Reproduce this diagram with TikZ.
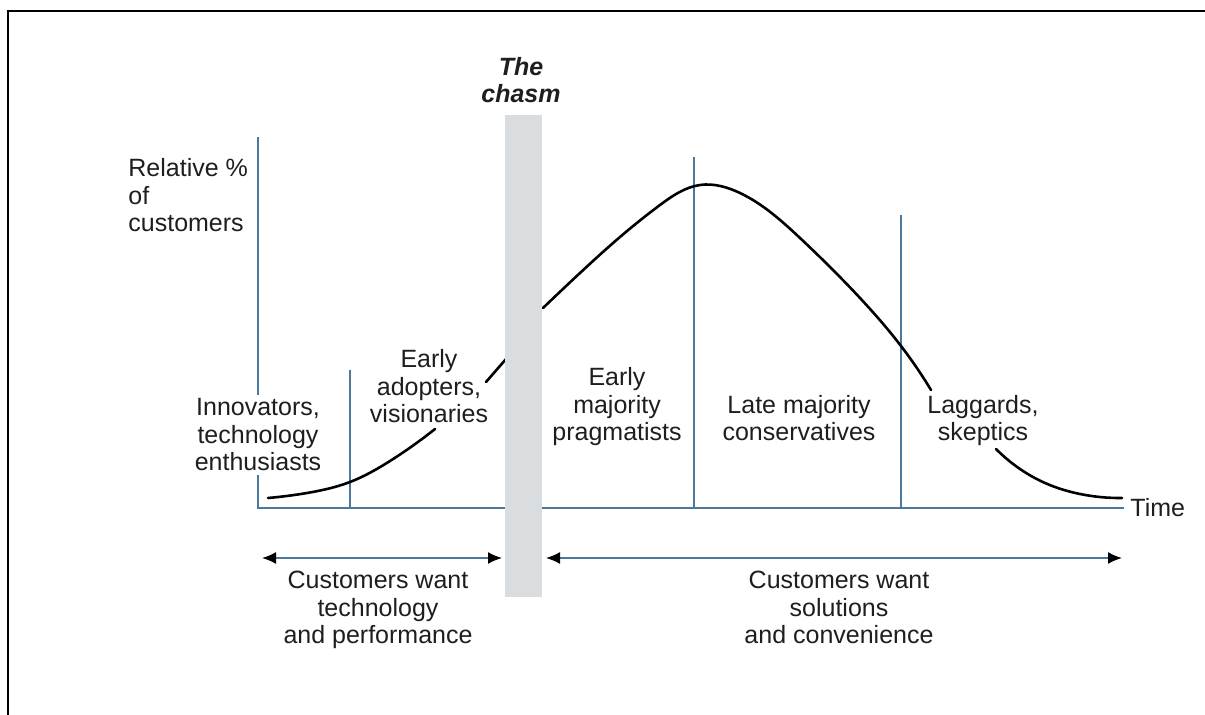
\documentclass[tikz,border=0pt]{standalone}
\usepackage{fontspec}
\setmainfont{Liberation Sans}
\usetikzlibrary{arrows.meta,hobby}
\definecolor{axisblue}{RGB}{75,120,155}
\definecolor{chasmgray}{RGB}{218,221,224}
\definecolor{ink}{RGB}{30,30,30}
\begin{document}
\begin{tikzpicture}[x=0.5pt,y=-0.5pt,
  lbl/.style={font=\fontsize{12.5}{13.75}\selectfont, text=ink, align=center, inner sep=0pt, anchor=base},
  axisline/.style={draw=axisblue, line width=0.8pt},
  curveline/.style={draw=black, line width=1.3pt, line cap=round, use Hobby shortcut},
  span/.style={axisline, {Latex[length=7pt,width=6pt,color=black]}-{Latex[length=7pt,width=6pt,color=black]}}
]
\useasboundingbox (0,0) rectangle (1205,715);
% frame
\draw[line width=1pt] (1205,11) -- (8,11) -- (8,715);
% axes
\coordinate (ytop) at (258,137);
\coordinate (origin) at (258,508);
\coordinate (xend) at (1124,508);
\draw[axisline] (ytop) -- (origin) -- (xend);
% dividers
\coordinate (d1t) at (350,370); \coordinate (d1b) at (350,508);
\coordinate (d2t) at (694,157); \coordinate (d2b) at (694,508);
\coordinate (d3t) at (901,215); \coordinate (d3b) at (901,508);
\draw[axisline] (d1t) -- (d1b);
\draw[axisline] (d2t) -- (d2b);
\draw[axisline] (d3t) -- (d3b);
% curve
\draw[curveline] (268,498) .. (307,493) .. (350,482) .. (390,461) .. (435,429);
\draw[line width=1.3pt, line cap=round] (486,382) -- (513,351);
\draw[curveline] (543,308) .. (580,273) .. (620,237) .. (660,205) .. (700,185) .. (740,193) .. (800,238) .. (860,298) .. (901,346) .. (931,390);
\draw[curveline] (996,449) .. (1020,469) .. (1045,483) .. (1080,494) .. (1122,498);
% chasm band
\fill[chasmgray] (505,115) rectangle (542,597);
% span arrows
\coordinate (aL1) at (262,558); \coordinate (aL2) at (502,558);
\coordinate (aR1) at (546,558); \coordinate (aR2) at (1122,558);
\draw[span] (aL1) -- (aL2);
\draw[span] (aR1) -- (aR2);
% labels (anchor = baseline of the last line)
\node[lbl, align=left, anchor=base west] (ylabel) at (128,232) {Relative \%\\of\\customers};
\node[lbl, font=\fontsize{12.5}{13.75}\selectfont\bfseries\itshape] (chasm) at (521,103) {The\\chasm};
\node[lbl, fill=white, inner sep=2pt] (innov) at (258,471) {Innovators,\\technology\\enthusiasts};
\node[lbl] (adopt) at (429,423) {Early\\adopters,\\visionaries};
\node[lbl] (earlymaj) at (617,441) {Early\\majority\\pragmatists};
\node[lbl] (latemaj) at (799,441) {Late majority\\conservatives};
\node[lbl] (lagg) at (983,441) {Laggards,\\skeptics};
\node[lbl, anchor=base west] (time) at (1130,517) {Time};
\node[lbl] (wantL) at (378,644) {Customers want\\technology\\and performance};
\node[lbl] (wantR) at (839,644) {Customers want\\solutions\\and convenience};
\end{tikzpicture}
\end{document}
